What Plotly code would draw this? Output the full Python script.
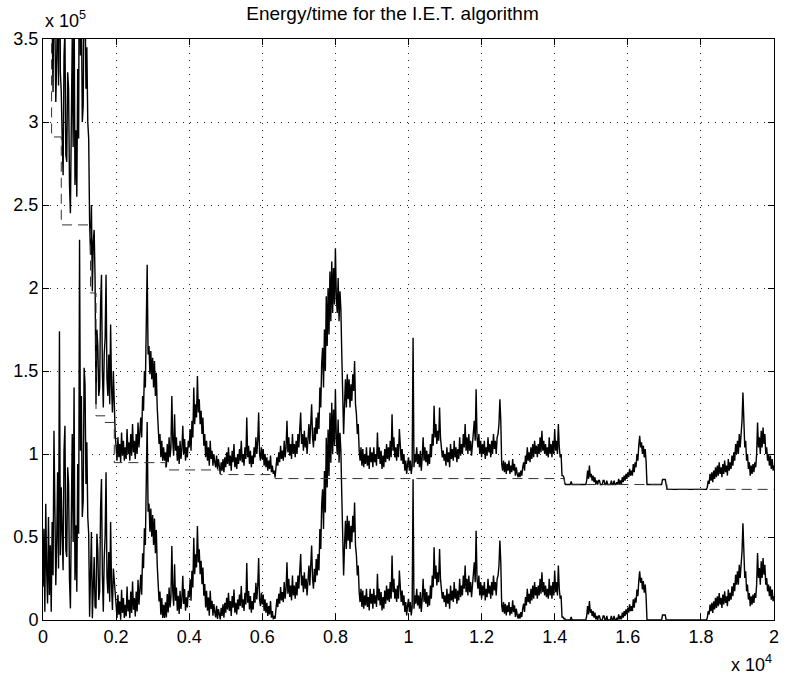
import numpy as np
import plotly.graph_objects as go

# Sampling step of the energy/time record (iterations)
step = 25

# Energy per unit time, in thousands, one value per sample (0 .. 20000)
energy_rate_k = [
    # 0 - 975
    420, 455, 405, 470, 430, 410, 462, 415, 445, 405,
    350, 318, 405, 345, 312, 338, 380, 322, 465, 330,
    318, 290, 268, 340, 355, 280, 276, 330, 320, 262, 245, 300, 350, 285, 378, 262, 295, 255, 332, 290,
    # 1000 - 1975
    467, 340, 373, 300, 310, 390, 380, 320, 345, 300, 290, 240, 220, 250, 198, 228, 235, 205, 130, 175,
    165, 135, 140, 190, 208, 150, 128, 160, 170, 208, 145, 135, 160, 130, 178, 140, 125, 150, 120, 112,
    # 2000 - 2975
    104, 96, 110, 98, 106, 95, 113, 99, 108, 96, 104, 97, 115, 100, 107, 96, 112, 99, 118, 101,
    108, 97, 112, 100, 119, 104, 113, 122, 110, 135, 126, 150, 140, 168, 214, 160, 165, 148, 162, 145,
    # 3000 - 3975
    158, 140, 156, 135, 149, 128, 118, 106, 112, 98, 108, 96, 104, 96, 101, 92, 106, 95, 110, 98,
    104, 135, 108, 99, 124, 102, 110, 96, 105, 94, 108, 97, 103, 117, 100, 109, 96, 104, 98, 108,
    # 4000 - 4975
    104, 115, 102, 120, 110, 140, 118, 130, 122, 147, 125, 133, 118, 126, 112, 122, 105, 112, 98, 108,
    96, 104, 93, 108, 97, 102, 93, 100, 95, 92, 99, 91, 97, 92, 88, 95, 90, 97, 89, 98,
    # 5000 - 5975
    92, 101, 94, 104, 93, 99, 90, 102, 95, 106, 92, 98, 91, 100, 94, 103, 96, 108, 95, 100,
    93, 104, 97, 122, 98, 105, 94, 102, 92, 99, 94, 104, 98, 110, 100, 108, 125, 100, 96, 104,
    # 6000 - 6975
    97, 103, 93, 100, 92, 98, 90, 96, 91, 99, 89, 93, 88, 90, 86, 92, 98, 93, 101, 95,
    105, 97, 102, 96, 108, 98, 104, 120, 101, 110, 99, 106, 97, 112, 100, 106, 98, 108, 100, 112,
    # 7000 - 7975
    104, 115, 125, 106, 112, 102, 114, 104, 110, 100, 108, 118, 106, 115, 130, 110, 104, 116, 108, 122,
    112, 125, 115, 140, 128, 155, 164, 140, 175, 150, 195, 165, 200, 172, 210, 180, 216, 185, 212, 190,
    # 8000 - 8975
    224, 195, 185, 206, 180, 198, 187, 160, 140, 112, 130, 145, 128, 148, 133, 145, 128, 142, 132, 148,
    138, 156, 130, 124, 112, 118, 102, 96, 104, 93, 103, 92, 100, 94, 104, 93, 99, 91, 104, 95,
    # 9000 - 9975
    101, 92, 104, 95, 100, 93, 113, 97, 104, 94, 102, 91, 99, 92, 103, 95, 106, 97, 104, 96,
    108, 98, 124, 102, 110, 98, 104, 96, 106, 98, 115, 100, 96, 103, 94, 100, 90, 96, 88, 94,
    # 10000 - 10975
    98, 90, 96, 88, 93, 170, 92, 100, 95, 104, 94, 100, 92, 102, 90, 98, 110, 96, 104, 95,
    102, 93, 100, 94, 106, 98, 112, 105, 129, 110, 118, 106, 114, 108, 128, 110, 104, 98, 102, 96,
    # 11000 - 11975
    100, 93, 104, 95, 101, 92, 106, 97, 103, 96, 108, 98, 104, 95, 103, 97, 110, 99, 106, 100,
    112, 104, 118, 102, 110, 100, 112, 102, 108, 99, 106, 114, 120, 108, 139, 110, 104, 112, 100, 108,
    # 12000 - 12975
    98, 106, 100, 108, 97, 104, 99, 110, 101, 106, 98, 108, 100, 112, 103, 108, 100, 110, 112, 118,
    133, 120, 94, 90, 96, 89, 95, 88, 94, 90, 96, 88, 93, 89, 97, 90, 94, 87, 92, 88,
    # 13000 - 13975
    86, 89, 86, 90, 87, 92, 95, 90, 99, 94, 104, 96, 101, 95, 104, 97, 106, 98, 108, 100,
    105, 98, 106, 100, 110, 101, 114, 102, 108, 100, 106, 99, 104, 98, 110, 100, 106, 98, 108, 100,
    # 14000 - 14975
    115, 102, 108, 100, 118, 104, 98, 100, 87, 87, 86, 82.5, 81.6, 81.6, 81.6, 81.6, 81.6, 81.6, 83.5, 81.6,
    81.6, 81.6, 81.6, 81.6, 81.6, 81.6, 81.6, 81.6, 81.6, 81.6, 81.6, 81.6, 81.6, 81.6, 81.6, 84, 90, 85, 93, 86,
    # 15000 - 15975
    88, 84, 87, 83, 86, 82, 84, 81.6, 84, 84, 81.6, 81.6, 81.6, 84, 84, 81.6, 81.6, 84, 81.6, 81.6,
    81.6, 81.6, 84, 81.6, 81.6, 84, 81.6, 81.6, 83, 81.6, 85, 82, 84, 82, 86, 83, 87, 84, 88, 85,
    # 16000 - 16975
    89, 86, 91, 87, 90, 87, 94, 89, 95, 92, 100, 96, 105, 111, 104, 107, 100, 105, 98, 103,
    96, 81.6, 81.6, 81.6, 81.6, 81.6, 81.6, 81.6, 81.6, 81.6, 81.6, 81.6, 81.6, 81.6, 81.6, 81.6, 81.6, 81.6, 84.6, 84.6,
    # 17000 - 17975
    84.6, 84.6, 81.6, 78.7, 78.7, 78.7, 78.7, 78.7, 78.7, 78.7, 78.7, 78.7, 78.7, 78.7, 78.7, 78.7, 78.7, 78.7, 78.7, 78.7,
    78.7, 78.7, 78.7, 78.7, 78.7, 78.7, 78.7, 78.7, 78.7, 78.7, 78.7, 78.7, 78.7, 78.7, 78.7, 78.7, 78.7, 78.7, 78.7, 78.7,
    # 18000 - 18975
    78.7, 78.7, 78.7, 78.7, 78.7, 78.7, 78.7, 80, 84, 82, 88, 84, 89, 83, 90, 85, 92, 86, 93, 87,
    95, 88, 92, 86, 94, 88, 96, 89, 93, 87, 97, 90, 95, 91, 99, 93, 101, 96, 106, 100,
    # 19000 - 20000
    108, 100, 112, 104, 110, 120, 137, 110, 104, 108, 96, 100, 91, 95, 87, 93, 88, 94, 89, 95,
    92, 100, 119, 104, 110, 100, 114, 104, 116, 106, 112, 100, 104, 96, 100, 93, 99, 91, 97, 90,
    93,
]

# Piecewise-constant reference level (thousands): start of each level and its value
baseline_start = [0, 235, 500, 1300, 1450, 1700, 1950, 3350, 4850, 6350, 14270, 17070]
baseline_level_k = [400, 291, 238, 197, 123, 119, 94.8, 90.4, 87.6, 85.2, 81.6, 78.7]
t_end = 20000

# Axis tick labels (scaled by 10^4 and 10^5)
x_ticks = [0, 2000, 4000, 6000, 8000, 10000, 12000, 14000, 16000, 18000, 20000]
x_tick_text = ["0", "0.2", "0.4", "0.6", "0.8", "1", "1.2", "1.4", "1.6", "1.8", "2"]
y_ticks = [0, 50000, 100000, 150000, 200000, 250000, 300000, 350000]
y_tick_text = ["0", "0.5", "1", "1.5", "2", "2.5", "3", "3.5"]

t = np.arange(len(energy_rate_k)) * step
energy = np.array(energy_rate_k) * 1000.0
levels = np.array(baseline_level_k) * 1000.0
idx = np.searchsorted(np.array(baseline_start), t, side="right") - 1
excess = energy - levels[idx]

base_x = baseline_start + [t_end]
base_y = list(levels) + [levels[-1]]

fig = go.Figure()
fig.add_trace(go.Scatter(x=t, y=excess, mode="lines",
                         line=dict(color="black", width=1.4), hoverinfo="skip"))
fig.add_trace(go.Scatter(x=t, y=energy, mode="lines",
                         line=dict(color="black", width=1.4), hoverinfo="skip"))
fig.add_trace(go.Scatter(x=base_x, y=base_y, mode="lines", line_shape="hv",
                         line=dict(color="#333333", width=1, dash="10px,6px"),
                         hoverinfo="skip"))

font = dict(family="Liberation Sans, Arial, Helvetica, sans-serif", size=18, color="black")
axis_common = dict(
    showline=True, linecolor="black", linewidth=1, mirror="ticks",
    ticks="inside", ticklen=6, tickcolor="black", tickwidth=1,
    showgrid=True, gridcolor="#222222", gridwidth=1, griddash="1px,6px",
    zeroline=False, tickfont=font,
)

fig.update_layout(
    width=785, height=681,
    margin=dict(l=43, r=6, t=39, b=61),
    paper_bgcolor="white", plot_bgcolor="white",
    showlegend=False,
    font=font,
    title=dict(text="Energy/time for the I.E.T. algorithm", x=0.5, xanchor="center",
               y=1 - 13 / 681, yanchor="middle", font=dict(font, size=19)),
    xaxis=dict(axis_common, range=[0, t_end], tickvals=x_ticks, ticktext=x_tick_text),
    yaxis=dict(axis_common, range=[0, 350000], tickvals=y_ticks, ticktext=y_tick_text),
    annotations=[
        dict(text="x 10<sup>5</sup>", xref="paper", yref="paper", x=0, y=1,
             xanchor="left", yanchor="bottom", showarrow=False, font=font, yshift=6),
        dict(text="x 10<sup>4</sup>", xref="paper", yref="paper", x=1, y=0,
             xanchor="right", yanchor="top", showarrow=False, font=font, yshift=-30),
    ],
)

fig.write_html("out.html")
